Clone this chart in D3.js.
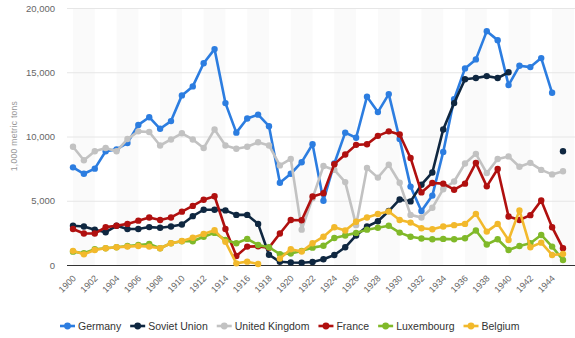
<!DOCTYPE html>
<html>
<head>
<meta charset="utf-8">
<script src="https://cdn.jsdelivr.net/npm/d3@7"></script>
<style>
  body { margin: 0; background: #fff; }
  svg { font-family: "Liberation Sans", Arial, sans-serif; }
</style>
</head>
<body>
<div id="chart"></div>
<script>
const years = d3.range(1900, 1946)
const yTicks = [0, 5000, 10000, 15000, 20000]

const germany = [7600, 7100, 7500, 8850, 9000, 9500, 10900, 11500, 10600, 11200, 13200, 13900, 15700, 16800, 12600, 10300, 11400, 11700, 10800, 6400, 7100, 8000, 9400, 5000, 7900, 10300, 9900, 13100, 11900, 13300, 9800, 6100, 4200, 5400, 8800, 12900, 15300, 16000, 18200, 17500, 14000, 15500, 15400, 16100, 13400, null]
const soviet = [3050, 3000, 2750, 2550, 3050, 2800, 2800, 2950, 2900, 3000, 3150, 3800, 4300, 4300, 4250, 3900, 3900, 3200, 800, 250, 200, 180, 230, 450, 780, 1380, 2300, 3000, 3400, 4200, 5100, 4950, 6250, 7200, 10550, 12600, 14450, 14550, 14700, 14550, 15000, null, null, null, null, 8850]
const uk = [9200, 8150, 8850, 9100, 8850, 9800, 10400, 10350, 9300, 9770, 10250, 9770, 9100, 10550, 9300, 9050, 9200, 9550, 9300, 7750, 8250, 2750, 5200, 7700, 7400, 6450, 3100, 7550, 6800, 7800, 6400, 3900, 3700, 4450, 5900, 6500, 7900, 8650, 7150, 8250, 8450, 7650, 7950, 7400, 7050, 7300]
const france = [2800, 2450, 2450, 2950, 3050, 3200, 3450, 3700, 3500, 3700, 4150, 4600, 5080, 5350, 2800, 700, 1430, 1450, 1350, 2450, 3500, 3480, 5340, 5580, 7850, 8600, 9350, 9400, 10050, 10400, 10150, 8330, 5650, 6380, 6330, 5860, 6330, 7950, 6120, 7470, 3770, 3500, 3880, 5020, 2940, 1300]
const luxembourg = [1040, 910, 1220, 1300, 1380, 1480, 1560, 1640, 1300, 1690, 1850, 1850, 2200, 2500, 1950, 1690, 2030, 1560, 1380, 850, 900, 1100, 1350, 1500, 2100, 2300, 2500, 2750, 2900, 3050, 2520, 2200, 2060, 2000, 2030, 2000, 2080, 2680, 1600, 2000, 1170, 1480, 1690, 2340, 1430, 390]
const belgium = [1100, 830, 1170, 1300, 1380, 1430, 1480, 1430, 1300, 1690, 1870, 2120, 2420, 2700, 1800, 130, 260, 80, null, 500, 1220, 1050, 1690, 2200, 2940, 2680, 3360, 3700, 3970, 4170, 3500, 3300, 2860, 2780, 3000, 3100, 3200, 3980, 2600, 3200, 1950, 4250, 1380, 1740, 780, 860]

const seriesNames = ["Germany", "Soviet Union", "United Kingdom", "France", "Luxembourg", "Belgium"]
const seriesData = [germany, soviet, uk, france, luxembourg, belgium]
const colors = ["#2c7de0", "#0f2740", "#c2c2c2", "#b0100f", "#80b929", "#f2b92c"]

const w = 575
const h = 338
const plotLeft = 67
const plotRight = 575
const plotTop = 8
const plotBottom = 265

const svg = d3.select('#chart')
    .append('svg')
    .attr('width', w)
    .attr('height', h)

const xScale = d3.scalePoint()
    .domain(years)
    .range([73, 563])

const yScale = d3.scaleLinear()
    .domain([0, 20000])
    .range([plotBottom, plotTop])

// alternate stripes, one per 2-year tick interval
const stripeStarts = years.filter(y => (y - 1900) % 4 === 0)
svg.append('g')
    .selectAll('rect')
    .data(stripeStarts)
    .enter()
    .append('rect')
    .attr('x', d => xScale(d))
    .attr('y', plotTop)
    .attr('width', d => Math.min(xScale(d) + 2 * xScale.step(), plotRight) - xScale(d))
    .attr('height', plotBottom - plotTop)
    .attr('fill', '#fafafa')

// horizontal grid
const yAxis = d3.axisLeft(yScale)
    .tickValues(yTicks)
    .tickSize(-(plotRight - plotLeft))
    .tickPadding(12)
    .tickFormat(d3.format(','))

const yG = svg.append('g')
    .attr('transform', 'translate(' + plotLeft + ',0)')
    .call(yAxis)
yG.select('.domain').remove()
yG.selectAll('.tick line').attr('stroke', '#e6e6e6').attr('stroke-width', 1)
yG.selectAll('.tick text')
    .attr('fill', '#666')
    .style('font-size', '9.5px')
    .attr('x', -12)

svg.append('line')
    .attr('x1', plotLeft)
    .attr('x2', plotRight)
    .attr('y1', plotBottom + 0.5)
    .attr('y2', plotBottom + 0.5)
    .attr('stroke', '#333')
    .attr('stroke-width', 1)

// x axis labels
const xAxis = d3.axisBottom(xScale)
    .tickValues(years.filter(y => y % 2 === 0))
    .tickSize(0)
    .tickFormat(d3.format('d'))

const xG = svg.append('g')
    .attr('transform', 'translate(0,' + plotBottom + ')')
    .call(xAxis)
xG.select('.domain').remove()
xG.selectAll('.tick text')
    .attr('fill', '#666')
    .style('font-size', '9px')
    .attr('text-anchor', 'end')
    .attr('dy', null)
    .attr('y', 0)
    .attr('transform', 'translate(3,14) rotate(-45)')

svg.append('text')
    .attr('transform', 'translate(17,' + 136 + ') rotate(-90)')
    .attr('text-anchor', 'middle')
    .attr('fill', '#999')
    .style('font-size', '8.5px')
    .style('letter-spacing', '0.3px')
    .text('1,000 metric tons')

// series
const line = d3.line()
    .defined(d => d.v != null)
    .x(d => xScale(d.year))
    .y(d => yScale(d.v))

seriesData.forEach((arr, si) => {
    const pts = arr.map((v, i) => ({ year: years[i], v: v }))
    const g = svg.append('g')
    g.append('path')
        .datum(pts)
        .attr('d', line)
        .attr('fill', 'none')
        .attr('stroke', colors[si])
        .attr('stroke-width', 2.6)
        .attr('stroke-linejoin', 'round')
    g.selectAll('circle')
        .data(pts.filter(d => d.v != null))
        .enter()
        .append('circle')
        .attr('cx', d => xScale(d.year))
        .attr('cy', d => yScale(d.v))
        .attr('r', 3.2)
        .attr('fill', colors[si])
})

// legend
const legend = svg.append('g')
const items = legend.selectAll('g')
    .data(seriesNames)
    .enter()
    .append('g')
items.append('line')
    .attr('x1', 0).attr('x2', 15)
    .attr('y1', 0).attr('y2', 0)
    .attr('stroke', (d, i) => colors[i])
    .attr('stroke-width', 2.6)
items.append('circle')
    .attr('cx', 7.5).attr('cy', 0).attr('r', 3.4)
    .attr('fill', (d, i) => colors[i])
items.append('text')
    .attr('x', 18)
    .attr('y', 3.7)
    .attr('fill', '#333')
    .style('font-size', '10.5px')
    .text(d => d)

let pos = 0
const offsets = []
items.each(function () {
    offsets.push(pos)
    const tw = d3.select(this).select('text').node().getComputedTextLength()
    pos += 18 + tw + 9
})
items.attr('transform', (d, i) => 'translate(' + offsets[i] + ',0)')
legend.attr('transform', 'translate(60,326)')
</script>
</body>
</html>
